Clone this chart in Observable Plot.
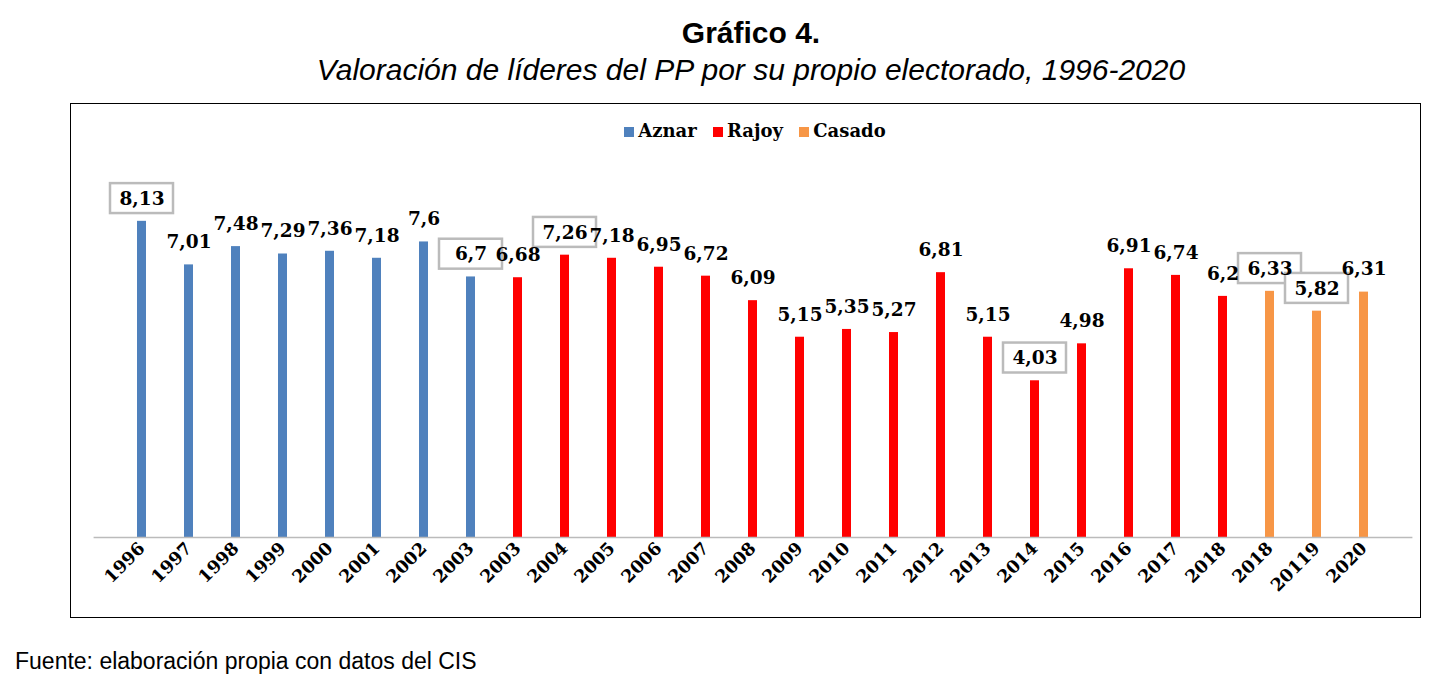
<!DOCTYPE html>
<html><head><meta charset="utf-8">
<script src="https://cdn.jsdelivr.net/npm/d3@7"></script>
<script src="https://cdn.jsdelivr.net/npm/@observablehq/plot@0.6"></script>
<style>
body{margin:0;background:#fff;width:1444px;height:682px;position:relative;font-family:"Liberation Sans",Arial,sans-serif}
#t{position:absolute;top:16px;left:0;width:1502px;text-align:center;font-weight:bold;font-size:30px}
#s{position:absolute;top:53px;left:0;width:1502px;text-align:center;font-style:italic;font-size:30px}
#f{position:absolute;left:70px;top:103px;width:1349px;height:513px;border:1px solid #000}
#lg{position:absolute;top:120px;left:0;width:1500px;text-align:center;font-family:"DejaVu Serif",serif;font-weight:bold;font-size:18px}
#lg span{display:inline-block;width:10px;height:10px;margin:0 4px 0 10px}
#c{position:absolute;left:70px;top:103px}
#src{position:absolute;left:15px;top:648px;font-size:23px}
</style></head><body>
<div id="t">Gráfico 4.</div>
<div id="s">Valoración de líderes del PP por su propio electorado, 1996-2020</div>
<div id="f"></div>
<div id="c"></div>
<div id="lg"><span style="background:#4f81bd"></span>Aznar <span style="background:#ff0000"></span>Rajoy <span style="background:#f79646"></span>Casado</div>
<div id="src">Fuente: elaboración propia con datos del CIS</div>
<script>
const labels=["1996","1997","1998","1999","2000","2001","2002","2003","2003","2004","2005","2006","2007","2008","2009","2010","2011","2012","2013","2014","2015","2016","2017","2018","2018","20119","2020"];
const values=[8.13,7.01,7.48,7.29,7.36,7.18,7.6,6.7,6.68,7.26,7.18,6.95,6.72,6.09,5.15,5.35,5.27,6.81,5.15,4.03,4.98,6.91,6.74,6.2,6.33,5.82,6.31];
const leaders=["Aznar","Aznar","Aznar","Aznar","Aznar","Aznar","Aznar","Aznar","Rajoy","Rajoy","Rajoy","Rajoy","Rajoy","Rajoy","Rajoy","Rajoy","Rajoy","Rajoy","Rajoy","Rajoy","Rajoy","Rajoy","Rajoy","Rajoy","Casado","Casado","Casado"];
const boxed=[1,0,0,0,0,0,0,1,0,1,0,0,0,0,0,0,0,0,0,1,0,0,0,0,1,1,0];
const data=labels.map((l,i)=>({i,l,v:values[i],who:leaders[i],box:boxed[i]}));
const fmt=v=>String(v).replace(".",",");
const sf='"DejaVu Serif",serif';
const chart=Plot.plot({
  width:1350,height:514,marginLeft:23.6,marginRight:7.6,marginTop:84,marginBottom:80,
  style:{background:"transparent",overflow:"visible"},
  x:{type:"band",domain:d3.range(labels.length),padding:0.8,align:0.5,label:null},
  y:{domain:[0,9],axis:null},
  color:{domain:["Aznar","Rajoy","Casado"],range:["#4f81bd","#ff0000","#f79646"]},
  marks:[
    Plot.barY(data,{x:"i",y:"v",fill:"who"}),
    Plot.ruleY([0],{stroke:"#bbb",strokeWidth:1.5}),
    Plot.barY(data.filter(d=>d.box),{x:"i",y1:d=>d.v+0.2,y2:d=>d.v+0.97,fill:"white",stroke:"#bbb",strokeWidth:2.5,insetLeft:-27,insetRight:-27}),
    Plot.text(data,{x:"i",y:d=>d.v+0.58,text:d=>fmt(d.v),fontFamily:sf,fontWeight:"bold",fontSize:18.5,fill:"#000"}),
    Plot.axisX({tickSize:0,tickRotate:-45,tickFormat:i=>labels[i],fontFamily:sf,fontWeight:"bold",fontSize:17.5,tickPadding:8,textAnchor:"end",fill:"#000",label:null})
  ]
});
document.getElementById("c").appendChild(chart);
</script></body></html>
